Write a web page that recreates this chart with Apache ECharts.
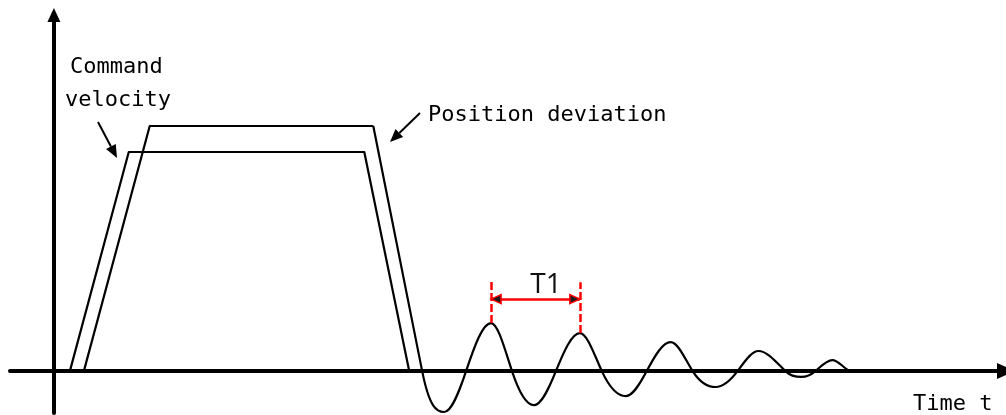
<!DOCTYPE html>
<html>
<head>
<meta charset="utf-8">
<script src="https://cdn.jsdelivr.net/npm/echarts@6/dist/echarts.min.js"></script>
<style>
  html, body { margin: 0; padding: 0; background: #ffffff; }
  #chart { width: 1006px; height: 415px; }
</style>
</head>
<body>
<div id="chart"></div>
<script>
// Axis ranges: time t (horizontal) and velocity v (vertical)
const timeRange = [-4.4, 95.4];
const velocityRange = [-17.1, 145.3];

// Command velocity: trapezoidal profile, [t, v]
const commandVelocity = [[1.6, 0], [7.5, 89.4], [31.1, 89.4], [35.6, 0]];

// Position deviation: lagging ramp up, hold
const deviationRamp = [[3.0, 0], [9.6, 100], [32.0, 100]];

// Position deviation from the end of the hold: ramp down, then the
// decaying residual vibration (zero crossings and extremes)
const residualVibration = [
  [32.0, 100], [36.9, 0], [39.1, -16.7], [41.3, 0],
  [43.8, 19.6], [45.9, 0], [48.1, -13.9], [50.3, 0], [52.7, 15.5],
  [54.9, 0], [57.3, -10.2], [59.4, 0], [61.8, 11.8], [64.0, 0],
  [66.3, -6.5], [68.5, 0], [70.6, 8.2], [73.3, 0], [74.9, -2.4],
  [76.3, 0], [78.0, 4.5], [79.8, 0]
];

// Vibration period T1: two successive peaks, guide tops and arrow level
const periodPeaks = [[43.8, 19.6], [52.7, 15.5]];
const periodGuideTops = [37.1, 36.3];
const periodArrowLevel = 29.4;
const periodLabel = 'T1';

// Text
const commandLabel = ['Command', 'velocity'];
const deviationLabel = 'Position deviation';
const timeLabel = 'Time t';

const chart = echarts.init(document.getElementById('chart'), null, { renderer: 'canvas' });

const INK = '#000000';
const RED = '#ff0000';
const MONO = '22px "DejaVu Sans Mono", monospace';

// Pointer arrow: shaft plus filled head, tip at (x2, y2)
function pointer(x1, y1, x2, y2, headLen, headW) {
  const a = Math.atan2(y2 - y1, x2 - x1);
  const bx = x2 - headLen * Math.cos(a);
  const by = y2 - headLen * Math.sin(a);
  const nx = -Math.sin(a) * headW / 2;
  const ny = Math.cos(a) * headW / 2;
  return [
    { type: 'line', shape: { x1: x1, y1: y1, x2: bx, y2: by },
      style: { stroke: INK, lineWidth: 2 } },
    { type: 'polygon', shape: { points: [[x2, y2], [bx + nx, by + ny], [bx - nx, by - ny]] },
      style: { fill: INK } }
  ];
}

// Hermite curve through the projected points, as SVG path data.
// Extremes get a flat tangent, zero crossings a sine-like slope;
// the ramp down keeps its straight slope through the first crossing.
function oscillationPath(pts) {
  const n = pts.length;
  const secant = (a, b) => (b[1] - a[1]) / (b[0] - a[0]);
  const slope = pts.map((p, i) => {
    if (i === 0 || i === 1) return secant(pts[0], pts[1]);
    if (i === n - 1) return 0.5 * secant(pts[n - 2], pts[n - 1]);
    const a = pts[i - 1], b = pts[i + 1];
    if ((a[1] - p[1]) * (b[1] - p[1]) > 0) return 0;
    return (Math.PI / 2) * secant(a, b);
  });
  let d = 'M' + pts[0][0] + ' ' + pts[0][1];
  for (let i = 0; i < n - 1; i++) {
    const p1 = pts[i], p2 = pts[i + 1];
    const h = (p2[0] - p1[0]) / 3;
    d += ' C' + (p1[0] + h) + ' ' + (p1[1] + slope[i] * h) + ' ' +
         (p2[0] - h) + ' ' + (p2[1] - slope[i + 1] * h) + ' ' + p2[0] + ' ' + p2[1];
  }
  return d;
}

const guideLines = periodPeaks.map((p, i) => ({ coords: [[p[0], p[1]], [p[0], periodGuideTops[i]]] }));
const arrowShaft = [{ coords: [[periodPeaks[0][0], periodArrowLevel], [periodPeaks[1][0], periodArrowLevel]] }];
const arrowHeads = [
  { value: [periodPeaks[0][0], periodArrowLevel], symbolRotate: 90, symbolOffset: [5, 0] },
  { value: [periodPeaks[1][0], periodArrowLevel], symbolRotate: -90, symbolOffset: [-5, 0] }
];

const lineSeries = (name, data) => ({
  name: name,
  type: 'line',
  data: data,
  showSymbol: false,
  symbol: 'none',
  clip: false,
  silent: true,
  lineStyle: { color: INK, width: 2.2, join: 'round' },
  z: 3
});

chart.setOption({
  animation: false,
  backgroundColor: '#ffffff',
  grid: { left: 10, right: -2, top: 15, bottom: 2 },
  xAxis: {
    type: 'value',
    min: timeRange[0],
    max: timeRange[1],
    axisLine: {
      show: true, onZero: true,
      symbol: ['none', 'triangle'], symbolSize: [16, 18],
      lineStyle: { color: INK, width: 4, cap: 'round' }
    },
    axisTick: { show: false },
    axisLabel: { show: false },
    splitLine: { show: false }
  },
  yAxis: {
    type: 'value',
    min: velocityRange[0],
    max: velocityRange[1],
    axisLine: {
      show: true, onZero: true,
      symbol: ['none', 'triangle'], symbolSize: [13, 14],
      lineStyle: { color: INK, width: 4 }
    },
    axisTick: { show: false },
    axisLabel: { show: false },
    splitLine: { show: false }
  },
  series: [
    lineSeries('Command velocity', commandVelocity),
    lineSeries('Position deviation', deviationRamp),
    {
      name: 'Residual vibration',
      type: 'custom',
      data: [0],
      silent: true,
      clip: false,
      z: 3,
      renderItem: function (params, api) {
        const pts = residualVibration.map(p => api.coord(p));
        return {
          type: 'path',
          shape: { pathData: oscillationPath(pts) },
          style: { fill: 'none', stroke: INK, lineWidth: 2.2, lineJoin: 'round' }
        };
      }
    },
    {
      name: 'Period guides',
      type: 'lines',
      coordinateSystem: 'cartesian2d',
      data: guideLines,
      symbol: 'none',
      silent: true,
      lineStyle: { color: RED, width: 2.5, type: [8, 3], opacity: 1, curveness: 0 },
      z: 4
    },
    {
      name: 'Period span',
      type: 'lines',
      coordinateSystem: 'cartesian2d',
      data: arrowShaft,
      symbol: 'none',
      silent: true,
      lineStyle: { color: RED, width: 2.5, opacity: 1, curveness: 0 },
      z: 4
    },
    {
      name: 'Period arrow heads',
      type: 'scatter',
      data: arrowHeads,
      symbol: 'triangle',
      symbolSize: [9, 10],
      silent: true,
      itemStyle: { color: '#1a1a1a', borderColor: RED, borderWidth: 1.5, opacity: 1 },
      z: 5
    }
  ],
  graphic: [
    { type: 'text', style: { x: 70, y: 67, text: commandLabel[0], font: MONO, fill: INK, verticalAlign: 'middle' } },
    { type: 'text', style: { x: 65, y: 100, text: commandLabel[1], font: MONO, fill: INK, verticalAlign: 'middle' } },
    { type: 'text', style: { x: 428, y: 115, text: deviationLabel, font: MONO, fill: INK, verticalAlign: 'middle' } },
    { type: 'text', style: { x: 913, y: 404, text: timeLabel, font: MONO, fill: INK, verticalAlign: 'middle' } },
    { type: 'text', style: { x: 546, y: 285, text: periodLabel, font: '28px "Open Sans", sans-serif', fill: '#111111', align: 'center', verticalAlign: 'middle' } }
  ].concat(pointer(98, 122, 117, 158, 13, 11), pointer(420, 113, 390, 142, 13, 11))
});
</script>
</body>
</html>
